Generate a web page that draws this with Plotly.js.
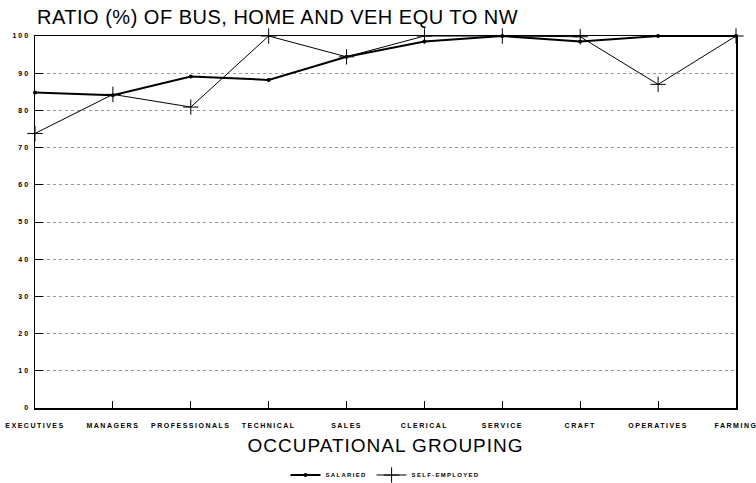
<!DOCTYPE html>
<html>
<head>
<meta charset="utf-8">
<script src="https://cdn.plot.ly/plotly-3.0.1.min.js"></script>
<style>
  html, body { margin: 0; padding: 0; background: #fff; }
  #chart { width: 756px; height: 483px; }
  .xtick text { letter-spacing: 1.5px; }
  .ytick text { letter-spacing: 2px; }
  .legendtext { letter-spacing: 1.3px; }
  .gtitle { letter-spacing: 0.5px; }
  .xtitle { letter-spacing: 1px; }
</style>
</head>
<body>
<div id="chart"></div>
<script>
const categories = ["EXECUTIVES", "MANAGERS", "PROFESSIONALS", "TECHNICAL", "SALES",
                    "CLERICAL", "SERVICE", "CRAFT", "OPERATIVES", "FARMING"];
const salaried = [84.8, 84.1, 89.1, 88.2, 94.4, 98.5, 100, 98.5, 100, 100];
const selfEmployed = [73.8, 84.3, 80.9, 100, 94.4, 100, 100, 99.8, 87.0, 100];
const yTicks = [0, 10, 20, 30, 40, 50, 60, 70, 80, 90, 100];
const seriesNames = ["SALARIED", "SELF-EMPLOYED"];
const chartTitle = "RATIO (%) OF BUS, HOME AND VEH EQU TO NW";
const xTitle = "OCCUPATIONAL GROUPING";

const traces = [
  {
    x: categories, y: salaried, name: seriesNames[0], type: "scatter", mode: "lines+markers",
    line: { color: "#000", width: 2 },
    marker: { symbol: "circle", size: 4, color: "#000" },
    cliponaxis: false
  },
  {
    x: categories, y: selfEmployed, name: seriesNames[1], type: "scatter", mode: "lines+markers",
    line: { color: "#000", width: 1 },
    marker: { symbol: "cross-thin-open", size: 11, line: { color: "#000", width: 1 } },
    cliponaxis: false
  }
];

const layout = {
  width: 756, height: 483,
  margin: { l: 35, r: 20, t: 36, b: 75 },
  paper_bgcolor: "#fff", plot_bgcolor: "#fff",
  font: { family: "Liberation Sans, Arial, sans-serif", color: "#000" },
  title: {
    text: chartTitle,
    font: { size: 20, family: "Liberation Sans, Arial, sans-serif", color: "#000" },
    xref: "container", x: 37 / 756, xanchor: "left",
    yref: "container", y: 1 - 10 / 483, yanchor: "top"
  },
  xaxis: {
    type: "category",
    range: [0, 9],
    automargin: false,
    showline: true, mirror: true, linecolor: "#000", linewidth: 1.5,
    ticks: "inside", ticklen: 7, tickcolor: "#000", tickwidth: 1,
    showgrid: false, zeroline: false,
    tickfont: { size: 7, weight: 700, family: "Liberation Sans, Arial, sans-serif" },
    ticklabelstandoff: 10,
    title: {
      text: xTitle, standoff: 11,
      font: { size: 19, family: "Liberation Sans, Arial, sans-serif" }
    }
  },
  yaxis: {
    range: [0, 100],
    automargin: false,
    tickvals: yTicks,
    showline: true, mirror: true, linecolor: "#000", linewidth: 1.5,
    ticks: "inside", ticklen: 8, tickcolor: "#000", tickwidth: 1,
    showgrid: true, gridcolor: "#999", gridwidth: 1, griddash: "dot",
    zeroline: false,
    tickfont: { size: 7, weight: 700, family: "Liberation Sans, Arial, sans-serif" },
    ticklabelstandoff: 2
  },
  showlegend: true,
  legend: {
    orientation: "h",
    xref: "container", x: 385 / 756, xanchor: "center",
    yref: "container", y: 1 - 475 / 483, yanchor: "middle",
    font: { size: 6, weight: 700, family: "Liberation Sans, Arial, sans-serif" },
    itemwidth: 30, tracegroupgap: 0, bgcolor: "rgba(0,0,0,0)"
  }
};

Plotly.newPlot("chart", traces, layout, { displayModeBar: false, staticPlot: true });
</script>
</body>
</html>
